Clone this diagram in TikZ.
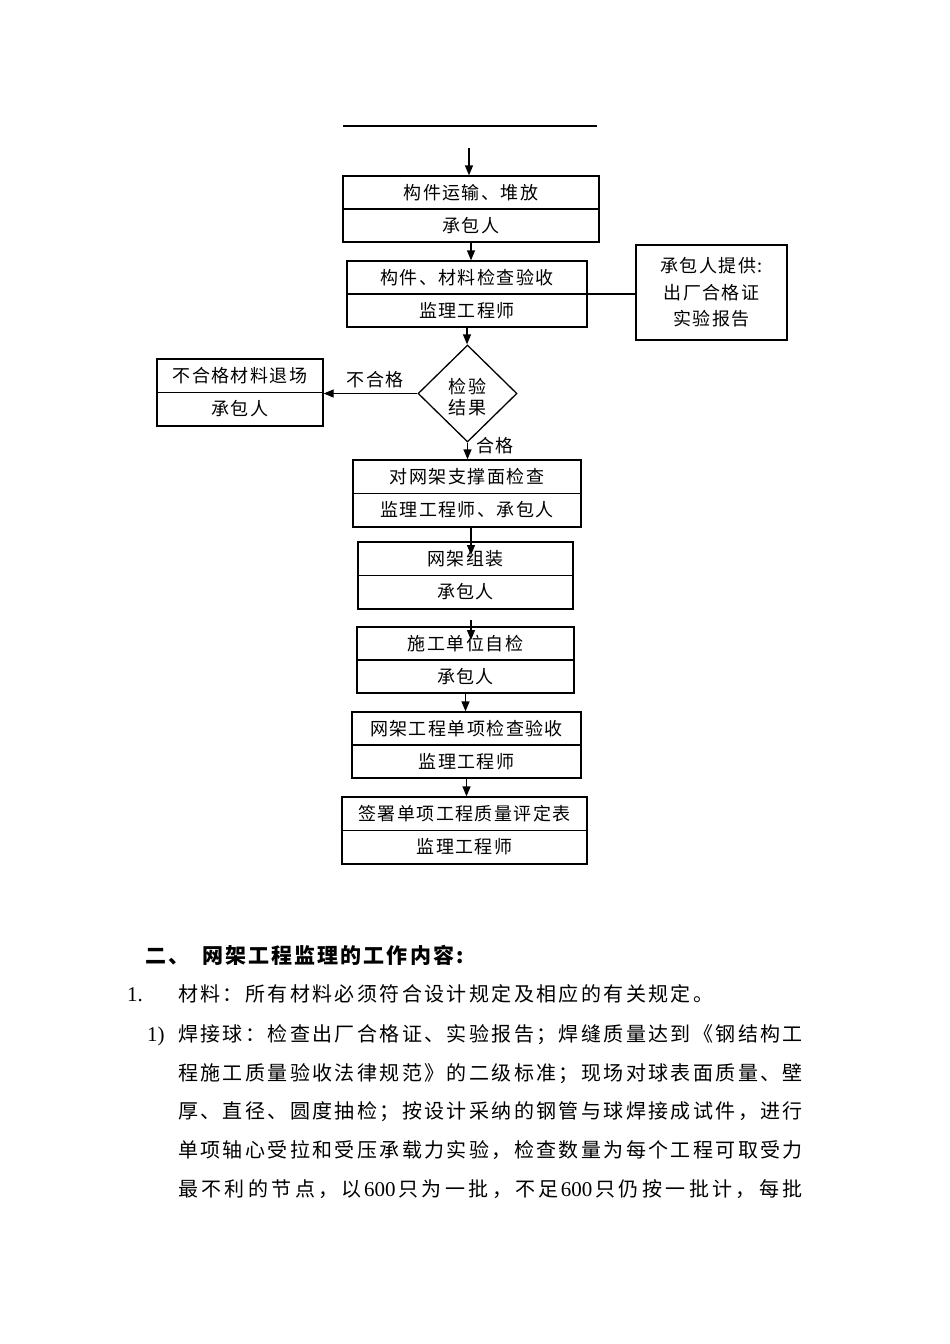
\documentclass[tikz,border=0pt]{standalone}
\usepackage{fontspec}
\setmainfont{Liberation Serif}
\newfontfamily\cjkbox[LetterSpace=8]{Noto Sans CJK SC}
\newfontfamily\cjkbody[LetterSpace=12]{Noto Sans CJK SC}
\newfontfamily\cjkbodyw[LetterSpace=17]{Noto Sans CJK SC}
\newfontfamily\cjkhead[LetterSpace=10]{Noto Sans CJK SC}
\newfontfamily\lat{Liberation Serif}
\usetikzlibrary{arrows.meta,shapes.geometric}
\begin{document}
\begin{tikzpicture}[x=1pt,y=-1pt,
  ln/.style={line width=1.3pt},
  stage/.style={draw, ln, inner sep=0pt, align=center, font=\cjkbox\fontsize{18}{33}\selectfont},
  arr/.style={ln, -{Triangle[length=10pt,width=8pt]}},
  lbl/.style={inner sep=2pt, font=\cjkbox\fontsize{18}{22}\selectfont},
  body/.style={anchor=base west, inner sep=0pt, font=\cjkbody\fontsize{20}{24}\selectfont},
  num/.style={anchor=base west, inner sep=0pt, font=\lat\fontsize{21}{24}\selectfont},
  head/.style={anchor=base west, inner sep=0pt, font=\cjkhead\bfseries\fontsize{21}{24}\selectfont},
]
\fill[white] (0,0) rectangle (950,1344);
\useasboundingbox (0,0) rectangle (950,1344);

% top rule
\coordinate (r1) at (343,126);
\coordinate (r2) at (597,126);
\draw[ln] (r1) -- (r2);

% boxes
\node[stage, minimum width=256pt, minimum height=66pt] (b1) at (471,209) {构件运输、堆放\\承包人};
\node[stage, minimum width=240pt, minimum height=66pt] (b2) at (467,294) {构件、材料检查验收\\监理工程师};
\node[stage, minimum width=151pt, minimum height=95pt, font=\cjkbox\fontsize{18}{26.5}\selectfont] (b3) at (711.5,292.5) {承包人提供:\\出厂合格证\\实验报告};
\node[diamond, draw, ln, minimum width=99pt, minimum height=97pt, inner sep=0pt] (d) at (467.5,393.5) {};
\node[align=center, inner sep=0pt, font=\cjkbox\fontsize{18}{21}\selectfont] (dt) at ([yshift=-4pt]d.center) {检验\\结果};
\node[stage, minimum width=166pt, minimum height=67pt] (b4) at (240,392.5) {不合格材料退场\\承包人};
\node[stage, minimum width=228pt, minimum height=67pt] (b5) at (467,493.5) {对网架支撑面检查\\监理工程师、承包人};
\node[stage, minimum width=215pt, minimum height=67pt] (b6) at (465.5,575.5) {网架组装\\承包人};
\node[stage, minimum width=217pt, minimum height=66pt] (b7) at (465.5,660) {施工单位自检\\承包人};
\node[stage, minimum width=229pt, minimum height=66pt] (b8) at (466.5,745) {网架工程单项检查验收\\监理工程师};
\node[stage, minimum width=245pt, minimum height=67pt] (b9) at (464.5,830.5) {签署单项工程质量评定表\\监理工程师};

% dividers
\foreach \b in {b1,b2,b4,b5,b6,b7,b8,b9} {\draw[ln] (\b.west) -- (\b.east);}

% connectors
\coordinate (top) at (469,148);
\draw[arr] (top) -- (top |- b1.north);
\draw[arr] (b1.south) -- (b1.south |- b2.north);
\draw[ln] (b2.east) -- (b2.east -| b3.west);
\draw[arr] (b2.south) -- (b2.south |- d.north);
\draw[arr] (d.west) -- (d.west -| b4.east) node[lbl, pos=0.45, above=3pt] (ng) {不合格};
\draw[arr] (d.south) -- (d.south |- b5.north) node[lbl, pos=0.15, right=6pt] (ok) {合格};
\coordinate (c56) at (471,555);
\draw[arr] (b5.south -| c56) -- (c56);
\coordinate (c67a) at (471,620);
\coordinate (c67b) at (471,640);
\draw[arr] (c67a) -- (c67b);
\draw[arr] (b7.south) -- (b7.south |- b8.north);
\draw[arr] (b8.south) -- (b8.south |- b9.north);

% text below
\node[head] (h1) at (145,963.5) {二、};
\node[head] (h2) at (202,963.5) {网架工程监理的工作内容:};
\node[num] (n1) at (127,1001.5) {1.};
\node[body] (t0) at (178,1001.5) {材料：所有材料必须符合设计规定及相应的有关规定。};
\node[num] (n2) at (147,1041.5) {1)};
\node[body] (t1) at (178,1041.5) {焊接球：检查出厂合格证、实验报告；焊缝质量达到《钢结构工};
\node[body] (t2) at (178,1080) {程施工质量验收法律规范》的二级标准；现场对球表面质量、壁};
\node[body] (t3) at (178,1118.5) {厚、直径、圆度抽检；按设计采纳的钢管与球焊接成试件，进行};
\node[body] (t4) at (178,1157.5) {单项轴心受拉和受压承载力实验，检查数量为每个工程可取受力};
\node[body, font=\cjkbodyw\fontsize{20}{24}\selectfont] (t5) at (178,1196.5) {最不利的节点，以\hspace{2pt}{\lat\fontsize{21}{24}\selectfont 600}\hspace{3pt}只为一批，不足\hspace{2pt}{\lat\fontsize{21}{24}\selectfont 600}\hspace{3pt}只仍按一批计，每批};
\end{tikzpicture}
\end{document}
